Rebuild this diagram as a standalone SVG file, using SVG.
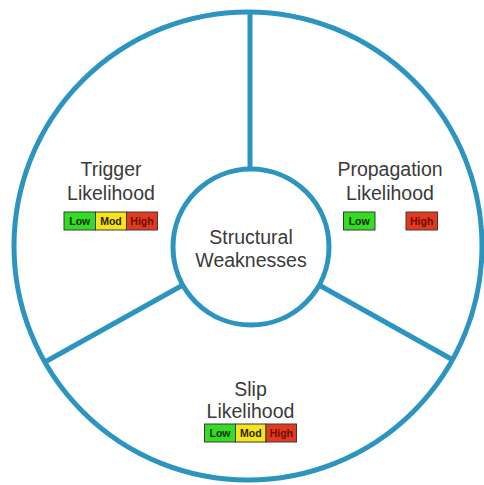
<svg xmlns="http://www.w3.org/2000/svg" width="484" height="485" viewBox="0 0 484 485">
<style>
.ring{fill:none;stroke:#2b95bf;stroke-width:5}
.spoke{stroke:#2b95bf;stroke-width:5;stroke-linecap:butt}
.lbl{font-family:"Liberation Sans",Arial,sans-serif;font-size:19.5px;fill:#3a3a3a;text-anchor:middle}
.bx{stroke:#3a3a3a;stroke-width:1}
.low{fill:#33dd22}
.mod{fill:#f3e41c}
.high{fill:#e23a1f}
.bt{font-family:"Liberation Sans",Arial,sans-serif;font-size:10.5px;font-weight:bold;text-anchor:middle}
.tl{fill:#142a0c}
.tm{fill:#2a2400}
.th{fill:#6a0e06}
</style>
<rect width="484" height="485" fill="#fff"/>
<g id="outer">
<circle class="ring" cx="248" cy="246" r="234"/>
</g>
<g id="connectors">
<line class="spoke" x1="250" y1="12" x2="250" y2="247"/>
<line class="spoke" x1="251" y1="247" x2="45" y2="362"/>
<line class="spoke" x1="251" y1="247" x2="453" y2="360"/>
</g>
<g id="center">
<circle cx="251" cy="247" r="78" fill="#fff" stroke="#2b95bf" stroke-width="5"/>
<text class="lbl" x="251" y="244">Structural</text>
<text class="lbl" x="251" y="267">Weaknesses</text>
</g>
<g id="trigger">
<text class="lbl" x="111" y="176">Trigger</text>
<text class="lbl" x="111" y="199.5">Likelihood</text>
<rect class="bx low" x="64" y="212" width="31.5" height="18"/>
<rect class="bx mod" x="95.5" y="212" width="31" height="18"/>
<rect class="bx high" x="126.5" y="212" width="31" height="18"/>
<text class="bt tl" x="79.8" y="225">Low</text>
<text class="bt tm" x="111" y="225">Mod</text>
<text class="bt th" x="142" y="225">High</text>
</g>
<g id="propagation">
<text class="lbl" x="390" y="176">Propagation</text>
<text class="lbl" x="390" y="199.5">Likelihood</text>
<rect class="bx low" x="343.5" y="212" width="31.5" height="18"/>
<rect class="bx high" x="406" y="212" width="31.5" height="18"/>
<text class="bt tl" x="359.2" y="225">Low</text>
<text class="bt th" x="421.7" y="225">High</text>
</g>
<g id="slip">
<text class="lbl" x="250.5" y="395.5">Slip</text>
<text class="lbl" x="250.5" y="417.5">Likelihood</text>
<rect class="bx low" x="204.5" y="424" width="31" height="18"/>
<rect class="bx mod" x="235.5" y="424" width="30.5" height="18"/>
<rect class="bx high" x="266" y="424" width="30.5" height="18"/>
<text class="bt tl" x="220" y="437">Low</text>
<text class="bt tm" x="250.8" y="437">Mod</text>
<text class="bt th" x="281.3" y="437">High</text>
</g>
</svg>
